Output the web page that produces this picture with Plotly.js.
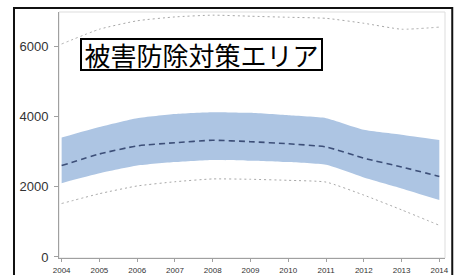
<!DOCTYPE html>
<html>
<head>
<meta charset="utf-8">
<script src="https://cdn.plot.ly/plotly-3.0.1.min.js"></script>
<style>body{margin:0;padding:0;background:#fff}#chart{width:456px;height:275px}</style>
</head>
<body>
<div id="chart"></div>
<script>
const years = [2004, 2005, 2006, 2007, 2008, 2009, 2010, 2011, 2012, 2013, 2014];
const meanVals  = [2600, 2930, 3160, 3250, 3320, 3280, 3220, 3130, 2810, 2560, 2290];
const bandUpper = [3400, 3700, 3950, 4070, 4120, 4100, 4030, 3950, 3620, 3480, 3330];
const bandLower = [2100, 2380, 2600, 2700, 2760, 2740, 2700, 2620, 2260, 1950, 1620];
const piUpper   = [6060, 6480, 6720, 6830, 6880, 6850, 6820, 6790, 6650, 6480, 6540];
const piLower   = [1520, 1800, 2020, 2140, 2220, 2210, 2180, 2130, 1760, 1340, 900];
const yTicks = [0, 2000, 4000, 6000];
const titleText = '被害防除対策エリア';

const sm = 0.5;
const traces = [
  {x: years, y: bandLower, mode: 'lines', line: {width: 0, shape: 'spline', smoothing: sm}, hoverinfo: 'skip', showlegend: false},
  {x: years, y: bandUpper, mode: 'lines', fill: 'tonexty', fillcolor: '#adc5e3', line: {width: 0, shape: 'spline', smoothing: sm}, hoverinfo: 'skip', showlegend: false},
  {x: years, y: meanVals, mode: 'lines', line: {color: '#3d4f78', width: 1.6, dash: '6px,4px', shape: 'spline', smoothing: sm}, showlegend: false},
  {x: years, y: piUpper, mode: 'lines', line: {color: '#a8a8a8', width: 1, dash: '2px,3px', shape: 'spline', smoothing: sm}, showlegend: false},
  {x: years, y: piLower, mode: 'lines', line: {color: '#a8a8a8', width: 1, dash: '2px,3px', shape: 'spline', smoothing: sm}, showlegend: false}
];

const layout = {
  width: 456, height: 275,
  margin: {l: 59, r: 11, t: 12, b: 17, pad: 0},
  paper_bgcolor: '#ffffff', plot_bgcolor: '#ffffff',
  showlegend: false,
  xaxis: {
    range: [2003.93, 2014.15], tickvals: years, ticktext: years.map(String),
    showgrid: false, zeroline: false, showline: true, linecolor: '#a0a0a0', linewidth: 1,
    ticks: 'outside', ticklen: 3, tickcolor: '#a0a0a0', ticklabelstandoff: 1,
    tickfont: {family: 'Liberation Sans, Arial, sans-serif', size: 8, color: '#333'}
  },
  yaxis: {
    range: [-30, 6970], tickvals: yTicks, ticktext: yTicks.map(String),
    showgrid: false, zeroline: false, showline: true, linecolor: '#a0a0a0', linewidth: 1,
    ticks: 'outside', ticklen: 4, tickcolor: '#a0a0a0', ticklabelstandoff: 3,
    tickfont: {family: 'Liberation Sans, Arial, sans-serif', size: 13, color: '#333'}
  },
  shapes: [
    {type: 'rect', xref: 'paper', yref: 'paper', x0: 0, x1: 1, y0: 0, y1: 1, line: {color: '#dddddd', width: 1}, layer: 'below'},
    {type: 'rect', xref: 'paper', yref: 'paper', x0: -0.1166, x1: 1.0188, y0: -0.2, y1: 1.0163, line: {color: '#111', width: 2}}
  ],
  annotations: [
    {text: titleText, xref: 'paper', yref: 'paper', x: 0.3685, y: 0.8285, xanchor: 'center', yanchor: 'middle',
     showarrow: false, bgcolor: '#ffffff', bordercolor: '#000', borderwidth: 2, borderpad: 0,
     width: 239, height: 29,
     font: {family: 'Noto Sans CJK JP, sans-serif', size: 26, color: '#000'}}
  ]
};

Plotly.newPlot('chart', traces, layout, {displayModeBar: false, staticPlot: true});
</script>
</body>
</html>
